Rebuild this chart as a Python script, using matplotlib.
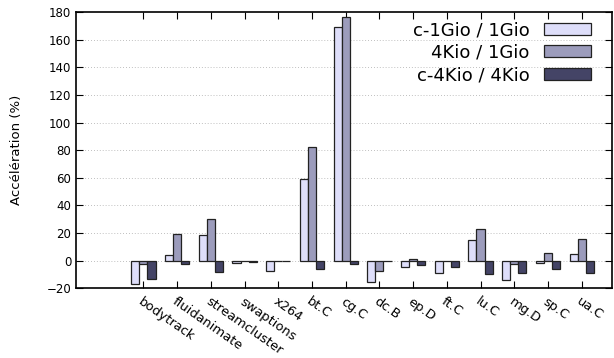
import matplotlib
matplotlib.use("Agg")
import matplotlib.pyplot as plt
import numpy as np

# benchmarks et accélérations mesurées (%)
benchs = ["bodytrack", "fluidanimate", "streamcluster", "swaptions", "x264",
          "bt.C", "cg.C", "dc.B", "ep.D", "ft.C", "lu.C", "mg.D", "sp.C", "ua.C"]
c1g_1g = [-17.1, 4.3, 18.6, -1.4, -7.7, 59.0, 169.0, -15.7, -4.8, -9.2, 15.0, -14.0, -1.9, 4.9]
k4_1g = [-2.2, 19.3, 30.4, -0.5, -0.3, 82.0, 176.5, -7.5, 1.0, -0.3, 23.2, -2.6, 5.3, 15.5]
c4k_4k = [-13.5, -2.2, -8.4, -0.7, -0.3, -6.3, -2.6, -0.5, -3.4, -4.8, -9.9, -8.9, -6.2, -8.7]

labels = ["c-1Gio / 1Gio", "4Kio / 1Gio", "c-4Kio / 4Kio"]
couleurs = ["#dedefa", "#9c9cbc", "#444466"]

fig = plt.figure(figsize=(6.14, 3.58), dpi=100)
ax = fig.add_axes([0.1238, 0.1947, 0.8729, 0.7718])

x = np.arange(len(benchs))
w = 0.24
series = [c1g_1g, k4_1g, c4k_4k]
for i, (vals, lab, col) in enumerate(zip(series, labels, couleurs)):
    ax.bar(x + (i - 1) * w, vals, w, color=col, edgecolor="#222222",
           linewidth=0.9, label=lab, zorder=3)

ax.set_xlim(-2, 13.9)
ax.set_ylim(-20, 180)
ax.set_yticks(np.arange(-20, 181, 20))
ax.set_xticks(x)
ax.set_xticklabels(benchs, rotation=-35, ha="left", va="top",
                   rotation_mode="anchor", fontsize=9.4)
ax.tick_params(axis="y", labelsize=8.5)
ax.tick_params(direction="in", top=True, right=True, length=5, width=0.8)
ax.tick_params(axis="x", pad=5)

for y in np.arange(-20, 181, 20):
    if -20 < y < 180:
        ax.axhline(y, color="#aaaaaa", linestyle=(0, (1, 2.5)), linewidth=0.6, zorder=1)

for s in ax.spines.values():
    s.set_linewidth(1.2)

ax.set_ylabel("Accélération (%)", fontsize=9.5, labelpad=17)

ax.legend(loc="upper right", bbox_to_anchor=(0.978, 0.999), frameon=False,
          markerfirst=False, fontsize=13, handlelength=2.6, handleheight=0.65,
          handletextpad=0.8, labelspacing=0.25, borderpad=0)

fig.savefig("out.png", dpi=100)
